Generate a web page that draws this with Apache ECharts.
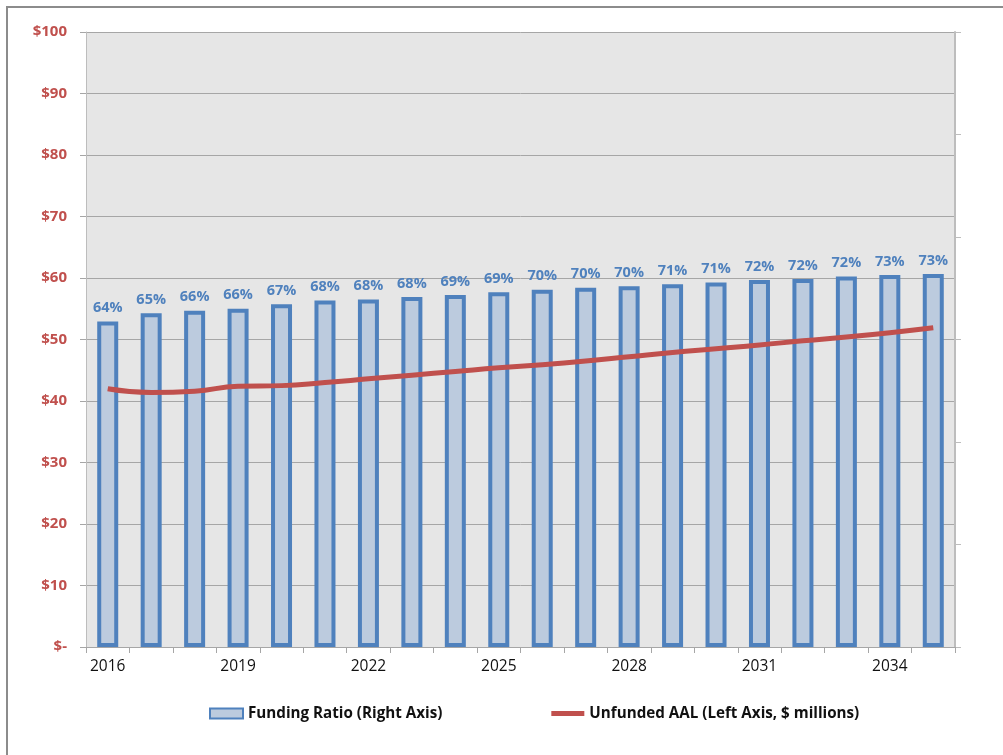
<!DOCTYPE html>
<html>
<head>
<meta charset="utf-8">
<title>Funding Ratio and Unfunded AAL</title>
<script src="https://cdn.jsdelivr.net/npm/echarts@6/dist/echarts.min.js"></script>
<style>
  html, body { margin: 0; padding: 0; background: #fff; }
  #main { width: 1003px; height: 755px; }
</style>
</head>
<body>
<div id="main"></div>
<script>
// years on the category axis
var years = ['2016','2017','2018','2019','2020','2021','2022','2023','2024','2025',
             '2026','2027','2028','2029','2030','2031','2032','2033','2034','2035'];
// funding ratio, percent (right axis)
var fundingRatio = [63.5, 65.1, 65.6, 66.0, 66.9, 67.6, 67.8, 68.3, 68.7, 69.2,
                    69.7, 70.1, 70.4, 70.8, 71.1, 71.6, 71.8, 72.3, 72.6, 72.8];
// unfunded AAL, $ millions (left axis)
var unfundedAAL = [42.0, 41.4, 41.6, 42.4, 42.5, 43.0, 43.6, 44.2, 44.8, 45.4,
                   45.9, 46.5, 47.2, 47.9, 48.5, 49.1, 49.8, 50.4, 51.1, 51.9];

var font = "'Open Sans', 'Liberation Sans', sans-serif";
var chart = echarts.init(document.getElementById('main'));

chart.setOption({
    animation: false,
    textStyle: { fontFamily: font },
    graphic: [{
        type: 'rect',
        shape: { x: 7, y: 7, width: 1010, height: 760 },
        style: { fill: 'none', stroke: '#8c8c8c', lineWidth: 2 },
        silent: true
    }],
    grid: {
        left: 86, right: 48, top: 32, bottom: 108,
        show: true, backgroundColor: '#e6e6e6', borderWidth: 0
    },
    legend: {
        bottom: 29,
        left: 204,
        itemWidth: 33,
        itemHeight: 10,
        itemGap: 109,
        textStyle: { fontSize: 15.2, fontWeight: 'bold', color: '#111', fontFamily: font },
        data: [
            { name: 'Funding Ratio (Right Axis)', icon: 'rect' },
            { name: 'Unfunded AAL (Left Axis, $ millions)', icon: 'path://M0,0 L33,0 L33,5 L0,5 Z' }
        ]
    },
    xAxis: {
        type: 'category',
        data: years,
        boundaryGap: true,
        axisLine: { lineStyle: { color: '#a6a6a6', width: 1 } },
        axisTick: { show: true, alignWithLabel: false, interval: 0, length: 6, lineStyle: { color: '#a6a6a6' } },
        axisLabel: { interval: 2, color: '#111', fontSize: 15.5, margin: 12 }
    },
    yAxis: [{
        type: 'value',
        min: 0, max: 100, interval: 10,
        axisLine: { show: true, lineStyle: { color: '#bdbdbd' } },
        axisTick: { show: true, length: 6, lineStyle: { color: '#a6a6a6' } },
        axisLabel: {
            color: '#c0504d', fontSize: 15, fontWeight: 'bold', margin: 19,
            formatter: function (v) { return v === 0 ? '$-' : '$' + v; }
        },
        splitLine: { lineStyle: { color: '#a6a6a6', width: 1 } }
    }, {
        type: 'value',
        position: 'right',
        min: 0, max: 120, interval: 20,
        axisLine: { show: true, lineStyle: { color: '#bdbdbd', width: 2 } },
        axisTick: { show: true, length: 6, lineStyle: { color: '#bdbdbd' } },
        axisLabel: { show: false },
        splitLine: { show: false }
    }],
    series: [{
        name: 'Funding Ratio (Right Axis)',
        type: 'bar',
        yAxisIndex: 1,
        data: fundingRatio,
        barWidth: 21,
        itemStyle: { color: '#bccbde', borderColor: '#4f81bd', borderWidth: 4 },
        label: {
            show: true, position: 'top', distance: 6,
            color: '#4f81bd', fontSize: 14.5, fontWeight: 'bold', fontFamily: font,
            formatter: function (p) { return Math.round(p.value) + '%'; }
        },
        z: 2
    }, {
        name: 'Unfunded AAL (Left Axis, $ millions)',
        type: 'line',
        yAxisIndex: 0,
        data: unfundedAAL,
        smooth: true,
        symbol: 'none',
        lineStyle: { color: '#c0504d', width: 5 },
        itemStyle: { color: '#c0504d' },
        z: 3
    }]
});
</script>
</body>
</html>
